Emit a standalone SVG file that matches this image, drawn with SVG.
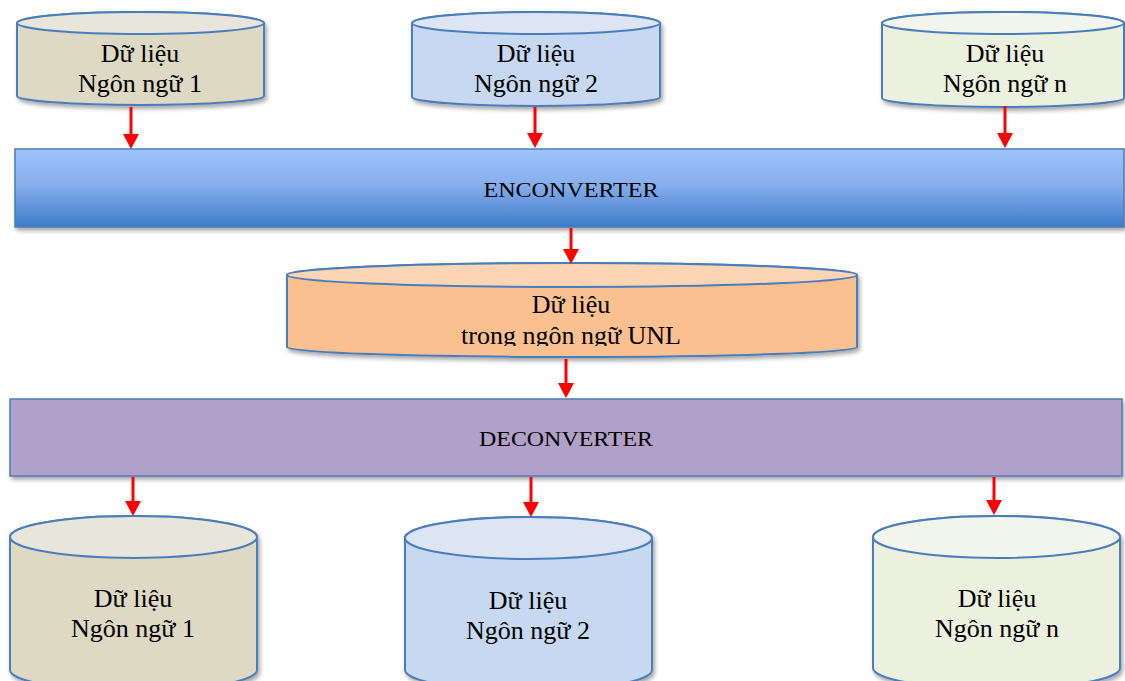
<svg xmlns="http://www.w3.org/2000/svg" width="1125" height="681" viewBox="0 0 1125 681">
  <defs>
    <linearGradient id="encGrad" x1="0" y1="0" x2="0" y2="1">
      <stop offset="0" stop-color="#9fc4fc"/>
      <stop offset="0.45" stop-color="#86afec"/>
      <stop offset="1" stop-color="#3e7cc9"/>
    </linearGradient>
    <filter id="shadow" x="-5%" y="-20%" width="110%" height="150%">
      <feDropShadow dx="2" dy="3" stdDeviation="2" flood-color="#000" flood-opacity="0.35"/>
    </filter>
    <marker id="head" markerWidth="15" markerHeight="16" refX="0" refY="8" orient="auto" markerUnits="userSpaceOnUse">
      <path d="M0,0 L15,8 L0,16 Z" fill="#ff0000"/>
    </marker>
    <clipPath id="unlClip">
      <rect x="280" y="260" width="590" height="86"/>
    </clipPath>
  </defs>
  <style>
    .cyl { stroke: #4a7ebb; stroke-width: 2; }
    .lbl { font-family: "Liberation Serif", "Times New Roman", serif; font-size: 26px; fill: #000; text-anchor: middle; }
    .bar { font-family: "Liberation Serif", "Times New Roman", serif; font-size: 21px; fill: #000; text-anchor: middle; }
    .conn { stroke: #ff0000; stroke-width: 3; fill: none; marker-end: url(#head); }
  </style>

  <!-- source data stores -->
  <g id="src1">
    <path class="cyl" filter="url(#shadow)" fill="#ddd9c3" d="M17,23 V96 A123.5,9 0 0 0 264,96 V23 A123.5,11 0 0 0 17,23 Z"/>
    <ellipse class="cyl" fill="#e8e5da" cx="140.5" cy="23" rx="123.5" ry="11"/>
    <text class="lbl" x="140" y="62">Dữ liệu</text>
    <text class="lbl" x="140" y="92">Ngôn ngữ 1</text>
  </g>
  <g id="src2">
    <path class="cyl" filter="url(#shadow)" fill="#c6d9f1" d="M412,23 V97 A124,9 0 0 0 660,97 V23 A124,11 0 0 0 412,23 Z"/>
    <ellipse class="cyl" fill="#dbe5f3" cx="536" cy="23" rx="124" ry="11"/>
    <text class="lbl" x="536" y="62">Dữ liệu</text>
    <text class="lbl" x="536" y="92">Ngôn ngữ 2</text>
  </g>
  <g id="srcN">
    <path class="cyl" filter="url(#shadow)" fill="#ebf1de" d="M882,23 V98 A121,9 0 0 0 1124,98 V23 A121,11 0 0 0 882,23 Z"/>
    <ellipse class="cyl" fill="#f2f5ec" cx="1003" cy="23" rx="121" ry="11"/>
    <text class="lbl" x="1005" y="62">Dữ liệu</text>
    <text class="lbl" x="1005" y="92">Ngôn ngữ n</text>
  </g>

  <!-- encoder bar -->
  <g id="enconverter">
    <rect filter="url(#shadow)" x="15" y="149" width="1109" height="78" fill="url(#encGrad)" stroke="#4a7ebb" stroke-width="1.5"/>
    <text class="bar" x="571" y="197" textLength="175" lengthAdjust="spacingAndGlyphs">ENCONVERTER</text>
  </g>

  <!-- interlingua store -->
  <g id="unl">
    <path class="cyl" filter="url(#shadow)" fill="#fac090" d="M287,275 V347 A285,10 0 0 0 857,347 V275 A285,12 0 0 0 287,275 Z"/>
    <ellipse class="cyl" fill="#fcd5b5" cx="572" cy="275" rx="285" ry="12"/>
    <g clip-path="url(#unlClip)">
      <text class="lbl" x="571" y="313">Dữ liệu</text>
      <text class="lbl" x="571" y="344">trong ngôn ngữ UNL</text>
    </g>
  </g>

  <!-- decoder bar -->
  <g id="deconverter">
    <rect filter="url(#shadow)" x="10" y="399" width="1112" height="77" fill="#b1a0c7" stroke="#4a7ebb" stroke-width="1.5"/>
    <text class="bar" x="566" y="446" textLength="174" lengthAdjust="spacingAndGlyphs">DECONVERTER</text>
  </g>

  <!-- target data stores -->
  <g id="dst1">
    <path class="cyl" filter="url(#shadow)" fill="#ddd9c3" d="M10,537 V670 A123.5,21 0 0 0 257,670 V537 A123.5,21 0 0 0 10,537 Z"/>
    <ellipse class="cyl" fill="#e8e5da" cx="133.5" cy="537" rx="123.5" ry="21"/>
    <text class="lbl" x="133" y="607">Dữ liệu</text>
    <text class="lbl" x="133" y="637">Ngôn ngữ 1</text>
  </g>
  <g id="dst2">
    <path class="cyl" filter="url(#shadow)" fill="#c6d9f1" d="M405,538 V670 A123.5,21 0 0 0 652,670 V538 A123.5,21 0 0 0 405,538 Z"/>
    <ellipse class="cyl" fill="#dbe5f3" cx="528.5" cy="538" rx="123.5" ry="21"/>
    <text class="lbl" x="528" y="609">Dữ liệu</text>
    <text class="lbl" x="528" y="639">Ngôn ngữ 2</text>
  </g>
  <g id="dstN">
    <path class="cyl" filter="url(#shadow)" fill="#ebf1de" d="M873,537 V668 A123.5,21 0 0 0 1120,668 V537 A123.5,21 0 0 0 873,537 Z"/>
    <ellipse class="cyl" fill="#f2f5ec" cx="996.5" cy="537" rx="123.5" ry="21"/>
    <text class="lbl" x="997" y="607">Dữ liệu</text>
    <text class="lbl" x="997" y="637">Ngôn ngữ n</text>
  </g>

  <!-- connectors -->
  <g id="connectors">
    <line class="conn" x1="131" y1="107" x2="131" y2="134"/>
    <line class="conn" x1="535" y1="107" x2="535" y2="133"/>
    <line class="conn" x1="1005" y1="106" x2="1005" y2="133"/>
    <line class="conn" x1="571" y1="228" x2="571" y2="249"/>
    <line class="conn" x1="566" y1="359" x2="566" y2="383"/>
    <line class="conn" x1="133" y1="477" x2="133" y2="501"/>
    <line class="conn" x1="531" y1="477" x2="531" y2="502"/>
    <line class="conn" x1="994" y1="477" x2="994" y2="500"/>
  </g>
</svg>
